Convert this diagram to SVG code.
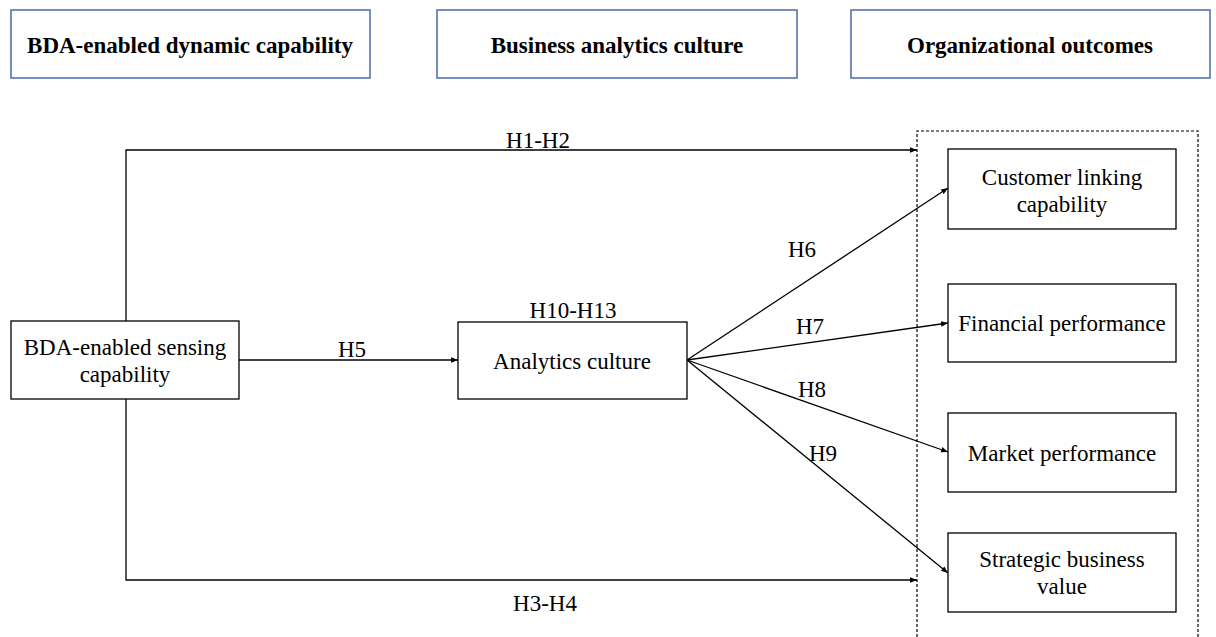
<svg xmlns="http://www.w3.org/2000/svg" width="1216" height="637" viewBox="0 0 1216 637">
<style>
.hdr{fill:#fff;stroke:#4a6aa8;stroke-width:1.5}
.nd{fill:#fff;stroke:#000;stroke-width:1.3}
.ht{font-family:'Liberation Serif','Times New Roman',serif;font-weight:bold;font-size:23px;fill:#000;text-anchor:middle}
.t{font-family:'Liberation Serif','Times New Roman',serif;font-size:23px;fill:#000;text-anchor:middle}
.c{fill:none;stroke:#000;stroke-width:1.3}
</style>
<defs>
<marker id="ah" viewBox="0 0 10 10" refX="10" refY="5" markerWidth="7" markerHeight="7" markerUnits="userSpaceOnUse" orient="auto"><path d="M0,1 L10,5 L0,9 z" fill="#000"/></marker>
</defs>
<rect width="1216" height="637" fill="#fff"/>
<g id="h1"><rect class="hdr" x="11" y="10" width="359" height="68"/><text class="ht" x="190" y="53">BDA-enabled dynamic capability</text></g>
<g id="h2"><rect class="hdr" x="437" y="10" width="360" height="68"/><text class="ht" x="617" y="53">Business analytics culture</text></g>
<g id="h3"><rect class="hdr" x="851" y="10" width="359" height="68"/><text class="ht" x="1030" y="53">Organizational outcomes</text></g>
<g id="outcomes"><path d="M917,637 V131 H1198 V637" fill="none" stroke="#000" stroke-width="1.2" stroke-dasharray="3,2"/></g>
<g id="connectors">
<path class="c" d="M126,321 V150 H917" marker-end="url(#ah)"/>
<path class="c" d="M126,399 V580 H917" marker-end="url(#ah)"/>
<path class="c" d="M239,360 H458" marker-end="url(#ah)"/>
<path class="c" d="M687,360 L948,188" marker-end="url(#ah)"/>
<path class="c" d="M687,360 L948,323" marker-end="url(#ah)"/>
<path class="c" d="M687,360 L948,452" marker-end="url(#ah)"/>
<path class="c" d="M687,360 L948,573" marker-end="url(#ah)"/>
<text class="t" x="538" y="148">H1-H2</text>
<text class="t" x="545" y="611">H3-H4</text>
<text class="t" x="352" y="357">H5</text>
<text class="t" x="573" y="318">H10-H13</text>
<text class="t" x="802" y="257">H6</text>
<text class="t" x="810" y="334">H7</text>
<text class="t" x="812" y="397">H8</text>
<text class="t" x="823" y="461">H9</text>
</g>
<g id="sensing"><rect class="nd" x="11" y="321" width="228" height="78"/><text class="t" x="125" y="355">BDA-enabled sensing</text><text class="t" x="125" y="382">capability</text></g>
<g id="culture"><rect class="nd" x="458" y="322" width="229" height="77"/><text class="t" x="572" y="369">Analytics culture</text></g>
<g id="customer"><rect class="nd" x="948" y="149" width="228" height="80"/><text class="t" x="1062" y="185">Customer linking</text><text class="t" x="1062" y="212">capability</text></g>
<g id="financial"><rect class="nd" x="948" y="284" width="228" height="78"/><text class="t" x="1062" y="331">Financial performance</text></g>
<g id="market"><rect class="nd" x="948" y="413" width="228" height="79"/><text class="t" x="1062" y="461">Market performance</text></g>
<g id="strategic"><rect class="nd" x="948" y="533" width="228" height="79"/><text class="t" x="1062" y="567">Strategic business</text><text class="t" x="1062" y="594">value</text></g>
</svg>
